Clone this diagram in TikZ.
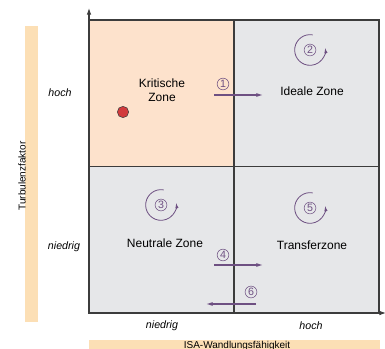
\documentclass[tikz,border=0pt]{standalone}
\usepackage{fontspec}
\setmainfont{Liberation Sans}
\usetikzlibrary{arrows.meta}
\definecolor{critfill}{HTML}{FDE2CC}
\definecolor{zonegray}{HTML}{E6E7E9}
\definecolor{barfill}{HTML}{FCDFB5}
\definecolor{movecol}{HTML}{6E5082}
\definecolor{framecol}{HTML}{3C3C3C}
\definecolor{dotred}{HTML}{D23A3C}
\tikzset{
  zone/.style = {rectangle, draw = framecol, line width = 0.8pt,
      minimum width = 108.75pt, minimum height = 109.9pt},
  zonename/.style = {font = \fontsize{9}{10.5}\selectfont, align = center},
  level/.style = {font = \fontsize{8}{9}\selectfont\itshape},
  numcirc/.style = {circle, draw = movecol, text = movecol, inner sep = 0.6pt,
      line width = 0.4pt, font = \fontsize{8}{8}\selectfont},
  move/.style = {draw = movecol, line width = 0.8pt, -{Latex[length=5pt,width=3pt]}},
  turn/.style = {draw = movecol, line width = 0.6pt, -{Latex[length=4pt,width=2.5pt]}}
}
\begin{document}
\begin{tikzpicture}[x=0.75pt, y=-0.75pt]
\useasboundingbox (0,0) rectangle (385,349);

% axis bars
\fill[barfill] (25,26) rectangle (38,322);
\fill[barfill] (89,340) rectangle (380,352);
\node[rotate = 90, font = \fontsize{7.5}{9}\selectfont] (ylabel) at (22,176) {Turbulenzfaktor};
\node[font = \fontsize{7.5}{9}\selectfont] (xlabel) at (237,346) {ISA-Wandlungsfähigkeit};

% zones
\node[zone,
    fill = critfill] (krit) at (161.5,93.25) {};
\node[zone,
    fill = zonegray] (ideal) at (306.5,93.25) {};
\node[zone,
    fill = zonegray] (neutral) at (161.5,239.75) {};
\node[zone,
    fill = zonegray] (transfer) at (306.5,239.75) {};

% axes
\draw[framecol, line width = 0.8pt, -{Latex[length=5pt,width=3.5pt]}] (89,313) -- (89,8);
\draw[framecol, line width = 0.8pt, -{Latex[length=5pt,width=3.5pt]}] (89,313) -- (386,313);

% scale labels
\node[level] (yhigh) at (60,93) {hoch};
\node[level] (ylow) at (64,247) {niedrig};
\node[level] (xlow) at (162,326) {niedrig};
\node[level] (xhigh) at (311,326) {hoch};

% zone names
\node[zonename] (kritname) at (162,90) {Kritische\\Zone};
\node[zonename] (idealname) at (312,91) {Ideale Zone};
\node[zonename] (neutralname) at (165,243) {Neutrale Zone};
\node[zonename] (transfername) at (312,245) {Transferzone};

% current position
\node[circle, draw = framecol, fill = dotred, line width = 0.4pt,
    minimum size = 8.5pt, inner sep = 0pt] (dot) at (123,112) {};

% turning in place
\node[numcirc] (n2) at (310,50) {2};
\node[numcirc] (n3) at (161,205) {3};
\node[numcirc] (n5) at (310,208) {5};
\foreach \c in {n2,n3,n5}
  \draw[turn] (\c.center) ++(80:11.5pt) arc[start angle = 80, end angle = 368, radius = 11.5pt];

% moves between zones
\coordinate (a1s) at (214,95);
\coordinate (a1e) at (263,95);
\coordinate (a4s) at (214,265);
\coordinate (a4e) at (263,265);
\coordinate (a6s) at (256,304);
\coordinate (a6e) at (206,304);
\draw[move] (a1s) -- (a1e);
\draw[move] (a4s) -- (a4e);
\draw[move] (a6s) -- (a6e);
\node[numcirc] (n1) at (223,84) {1};
\node[numcirc] (n4) at (223,255) {4};
\node[numcirc] (n6) at (251,292) {6};

\end{tikzpicture}
\end{document}
